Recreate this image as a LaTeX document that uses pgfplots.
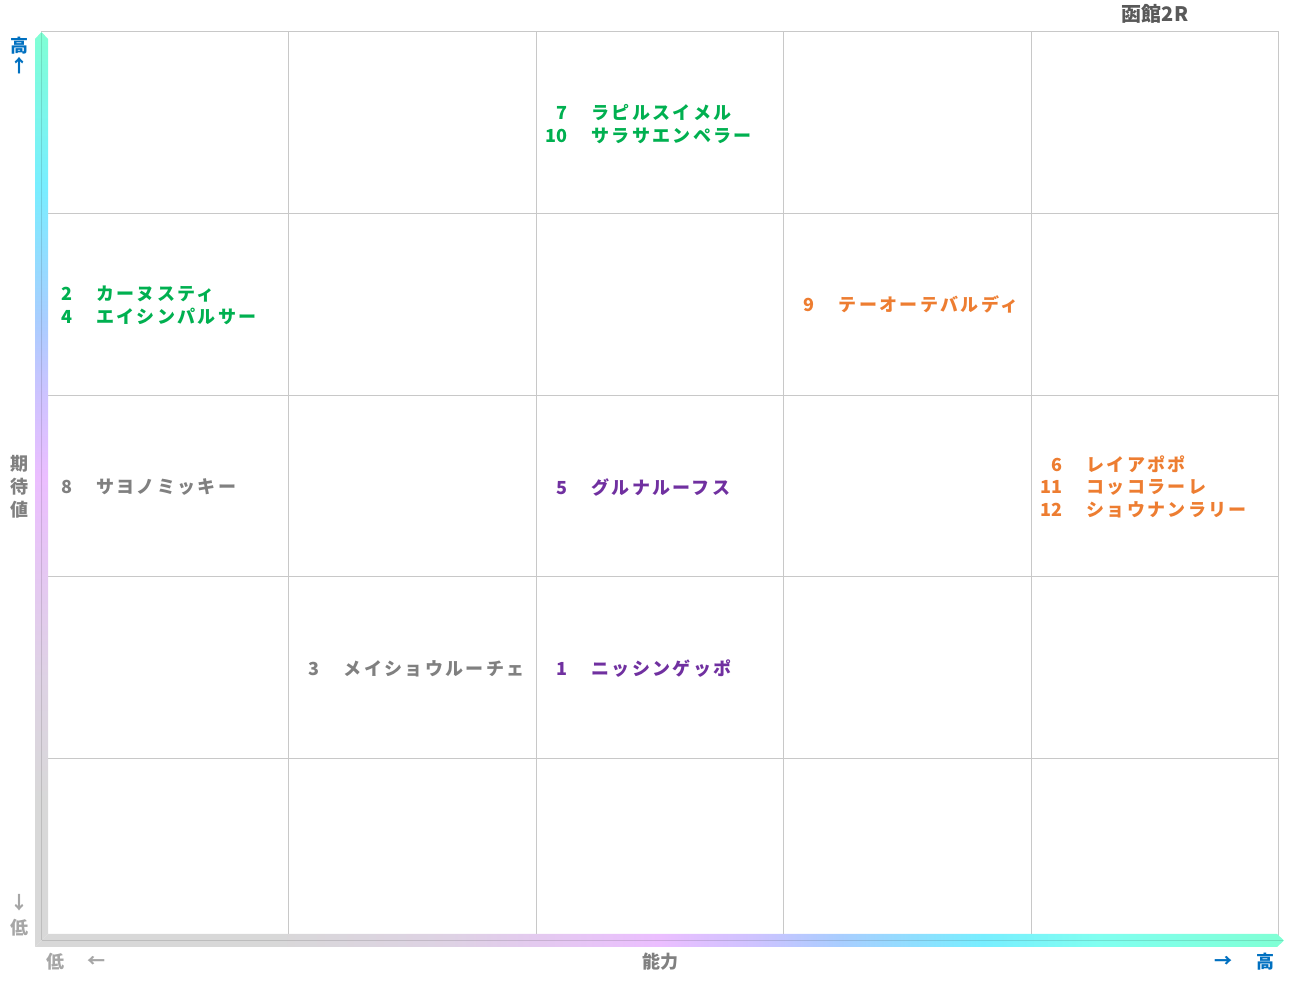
\documentclass[border=0pt]{standalone}
\usepackage{fontspec}
\setmainfont{Noto Sans CJK JP}
\newfontfamily\jp{Noto Sans CJK JP}[LetterSpace=13]
\usepackage{pgfplots}
\pgfplotsset{compat=1.18}

\definecolor{gridc}{RGB}{200,200,200}
\definecolor{cgreen}{RGB}{0,176,80}
\definecolor{corange}{RGB}{237,125,49}
\definecolor{cpurple}{RGB}{112,48,160}
\definecolor{cgray}{RGB}{128,128,128}
\definecolor{cblue}{RGB}{0,112,192}
\definecolor{clow}{RGB}{166,166,166}
\definecolor{ctitle}{RGB}{89,89,89}

\definecolor{cAqua}{RGB}{128,255,212}
\definecolor{cAc}{RGB}{128,255,240}
\definecolor{cCyan}{RGB}{120,238,255}
\definecolor{cLblue}{RGB}{170,205,255}
\definecolor{cLav}{RGB}{205,195,255}
\definecolor{cPink}{RGB}{235,190,255}
\definecolor{cPgray}{RGB}{222,210,228}
\definecolor{cGray}{RGB}{216,216,216}

\pgfdeclarehorizontalshading{xgrad}{100bp}{color(0bp)=(cGray); color(34.5bp)=(cGray);
  color(41.6bp)=(cPgray); color(50bp)=(cPink); color(53.9bp)=(cLav); color(57.1bp)=(cLblue);
  color(62.9bp)=(cCyan); color(67.6bp)=(cAc); color(75bp)=(cAqua); color(100bp)=(cAqua)}
\pgfdeclareverticalshading{ygrad}{100bp}{color(0bp)=(cGray); color(33bp)=(cGray);
  color(39.6bp)=(cPgray); color(50.7bp)=(cPink); color(55.2bp)=(cLav); color(59.1bp)=(cLblue);
  color(66.6bp)=(cCyan); color(75bp)=(cAqua); color(100bp)=(cAqua)}

% number right-aligned 24pt before the name
\newcommand{\horse}[2]{\llap{{\normalfont\bfseries #1}\hspace{24pt}}#2}

\begin{document}
\begin{tikzpicture}[x=1pt,y=1pt]
\path[use as bounding box] (0,0) rectangle (1291,983);

\begin{axis}[
    at={(41pt,43pt)}, anchor=south west,
    scale only axis, width=1238pt, height=908pt,
    xmin=0, xmax=5, ymin=0, ymax=5,
    xtick={1,2,3,4}, ytick={1,2,3,4},
    xticklabels={}, yticklabels={},
    major tick length=0pt,
    grid=major,
    grid style={color=gridc, line width=1pt},
    axis line style={color=gridc, line width=1pt},
    clip=false,
    nodes near coords,
    point meta=explicit symbolic,
    every node near coord/.style={anchor=west, inner sep=0pt, font=\jp\bfseries\fontsize{18}{20}\selectfont},
]
% green
\addplot[draw=none, mark=none, nodes near coords style={text=cgreen}] coordinates {
(2.222,4.559) [{\horse{7}{ラピルスイメル}}]
(2.222,4.427) [{\horse{10}{サラサエンペラー}}]
(0.222,3.557) [{\horse{2}{カーヌスティ}}]
(0.222,3.431) [{\horse{4}{エイシンパルサー}}]
};
% orange
\addplot[draw=none, mark=none, nodes near coords style={text=corange}] coordinates {
(3.222,3.497) [{\horse{9}{テーオーテバルディ}}]
(4.222,2.621) [{\horse{6}{レイアポポ}}]
(4.222,2.494) [{\horse{11}{コッコラーレ}}]
(4.222,2.368) [{\horse{12}{ショウナンラリー}}]
};
% purple
\addplot[draw=none, mark=none, nodes near coords style={text=cpurple}] coordinates {
(2.222,2.494) [{\horse{5}{グルナルーフス}}]
(2.222,1.492) [{\horse{1}{ニッシンゲッポ}}]
};
% gray
\addplot[draw=none, mark=none, nodes near coords style={text=cgray}] coordinates {
(0.222,2.494) [{\horse{8}{サヨノミッキー}}]
(1.222,1.492) [{\horse{3}{メイショウルーチェ}}]
};
\end{axis}

% gradient axis bars (y = 983 - pixel row)
\shade[shading=ygrad] (35,36) -- (35,944) -- (41.5,951) -- (48,944) -- (48,49) -- cycle;
\shade[shading=xgrad] (35,36) -- (48,49) -- (1277,49) -- (1284,42.5) -- (1277,36) -- cycle;
\draw[black, opacity=0.12, line width=1pt] (41.5,42.5) -- (41.5,950);
\draw[black, opacity=0.12, line width=1pt] (41.5,42.5) -- (1283,42.5);

\begin{scope}[font=\bfseries\fontsize{18}{20}\selectfont, inner sep=0pt]
\node[text=ctitle, font=\bfseries\fontsize{20}{22}\selectfont] at (1155,969) {函館2R};
\node[text=cblue] at (19,937) {高};
\node[text=cblue] at (19,917) {↑};
\node[text=cgray] at (19,519) {期};
\node[text=cgray] at (19,496) {待};
\node[text=cgray] at (19,473) {値};
\node[text=clow] at (19,80) {↓};
\node[text=clow] at (19,55) {低};
\node[text=clow] at (55,21) {低};
\node[text=clow] at (96,21) {←};
\node[text=cgray] at (660,21) {能力};
\node[text=cblue] at (1223,21) {→};
\node[text=cblue] at (1265,21) {高};
\end{scope}
\end{tikzpicture}
\end{document}
